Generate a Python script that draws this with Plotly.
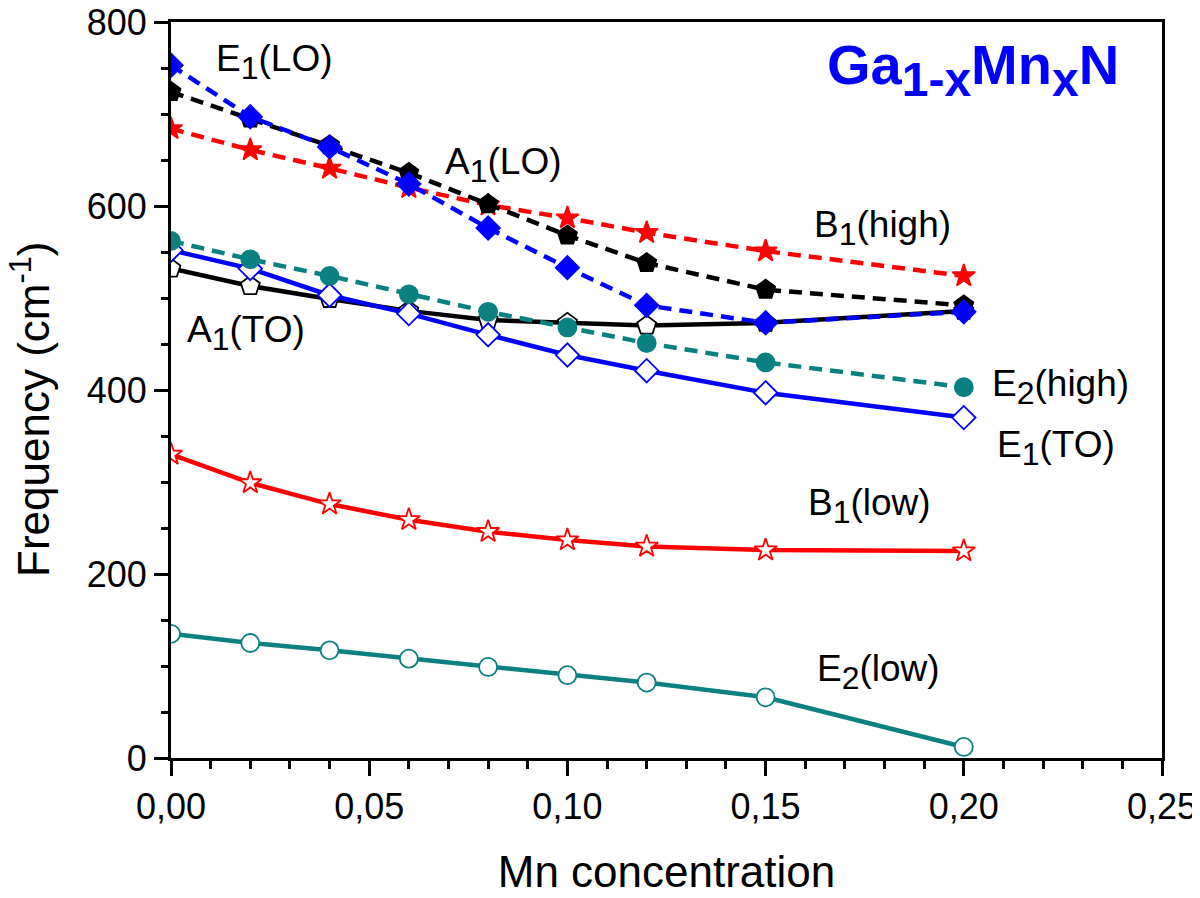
import plotly.graph_objects as go

x = [0.00, 0.02, 0.04, 0.06, 0.08, 0.10, 0.12, 0.15, 0.20]

e1_lo = [753, 697, 664, 624, 576, 533, 492, 473, 485]
a1_lo = [724, 695, 666, 636, 602, 568, 538, 509, 492]
b1_high = [684, 661, 641, 620, 601, 587, 571, 551, 524]
e2_high = [562, 542, 524, 504, 485, 468, 451, 430, 403]
a1_to = [532, 513, 499, 486, 476, 473, 470, 473, 486]
e1_to = [552, 532, 503, 483, 460, 438, 421, 397, 370]
b1_low = [330, 299, 276, 259, 246, 237, 230, 226, 225]
e2_low = [135, 125, 117, 108, 99, 90, 82, 66, 12]

x_tickvals = [0.00, 0.05, 0.10, 0.15, 0.20, 0.25]
x_ticktext = ["0,00", "0,05", "0,10", "0,15", "0,20", "0,25"]
y_tickvals = [0, 200, 400, 600, 800]

BLUE = "#0000ff"
RED = "#ff0000"
TEAL = "#0b8080"
BLACK = "#000000"
FONT = "Liberation Sans, Arial, Helvetica, sans-serif"

fig = go.Figure()


def add(y, color, symbol, filled, dashed, size=17):
    fig.add_trace(go.Scatter(
        x=x, y=y, mode="lines+markers",
        line=dict(color=color, width=4.5, dash="13px,8px" if dashed else "solid"),
        marker=dict(symbol=symbol, size=size,
                    color=color if filled else "white",
                    line=dict(color=color, width=1.8)),
        showlegend=False,
    ))


add(e2_low, TEAL, "circle", False, False, 18)
add(b1_low, RED, "star", False, False, 17)
add(a1_to, BLACK, "pentagon", False, False, 20)
add(e1_to, BLUE, "diamond", False, False, 18)
add(e2_high, TEAL, "circle", True, True, 18)
add(b1_high, RED, "star", True, True, 17)
add(a1_lo, BLACK, "pentagon", True, True, 20)
add(e1_lo, BLUE, "diamond", True, True, 18)

SUB = "<sub><span style='font-size:32px'>{}</span></sub>"
labels = [
    ("E" + SUB.format("1") + "(LO)", 0.0260, 757),
    ("A" + SUB.format("1") + "(LO)", 0.0838, 645),
    ("B" + SUB.format("1") + "(high)", 0.1796, 576),
    ("A" + SUB.format("1") + "(TO)", 0.0189, 462),
    ("E" + SUB.format("2") + "(high)", 0.2245, 403),
    ("E" + SUB.format("1") + "(TO)", 0.2233, 337),
    ("B" + SUB.format("1") + "(low)", 0.1761, 274),
    ("E" + SUB.format("2") + "(low)", 0.1784, 93),
]
for txt, ax, ay in labels:
    fig.add_annotation(x=ax, y=ay, text=txt, showarrow=False,
                       font=dict(family=FONT, size=37, color="black"),
                       xanchor="center", yanchor="middle")

BSUB = "<sub><span style='font-size:48px'>{}</span></sub>"
fig.add_annotation(x=0.2022, y=748,
                   text="Ga" + BSUB.format("1-x") + "Mn" + BSUB.format("x") + "N",
                   showarrow=False,
                   font=dict(family=FONT, size=56, color=BLUE, weight="bold"),
                   xanchor="center", yanchor="middle")

# y-axis title placed as annotation (reference is slightly below centre)
fig.add_annotation(xref="paper", yref="paper", x=-0.1413, y=0.4742,
                   text="Frequency (cm<sup>-1</sup>)", textangle=-90, showarrow=False,
                   font=dict(family=FONT, size=44, color="black"),
                   xanchor="center", yanchor="middle")

axis_common = dict(
    showline=True, linecolor="black", linewidth=3, mirror=True,
    ticks="outside", tickwidth=2.5, tickcolor="black",
    showgrid=False, zeroline=False, automargin=False,
    ticklabeloverflow="allow",
    tickfont=dict(family=FONT, size=36, color="black"),
)

fig.update_xaxes(
    range=[0, 0.25], tickvals=x_tickvals, ticktext=x_ticktext, ticklen=15,
    minor=dict(dtick=0.01, ticklen=8, tickwidth=2.5, ticks="outside", tickcolor="black", showgrid=False),
    title=dict(text="Mn concentration", font=dict(family=FONT, size=44, color="black"), standoff=30),
    **axis_common,
)
fig.update_yaxes(
    range=[0, 800], tickvals=y_tickvals, ticklen=14,
    minor=dict(dtick=50, ticklen=7, tickwidth=2.5, ticks="outside", tickcolor="black", showgrid=False),
    **axis_common,
)

# page body adds an 8px offset, so margins are compensated
fig.update_layout(
    width=1200, height=898,
    margin=dict(l=163, r=46, t=14, b=148),
    plot_bgcolor="white", paper_bgcolor="white",
)

fig.write_html("out.html")
